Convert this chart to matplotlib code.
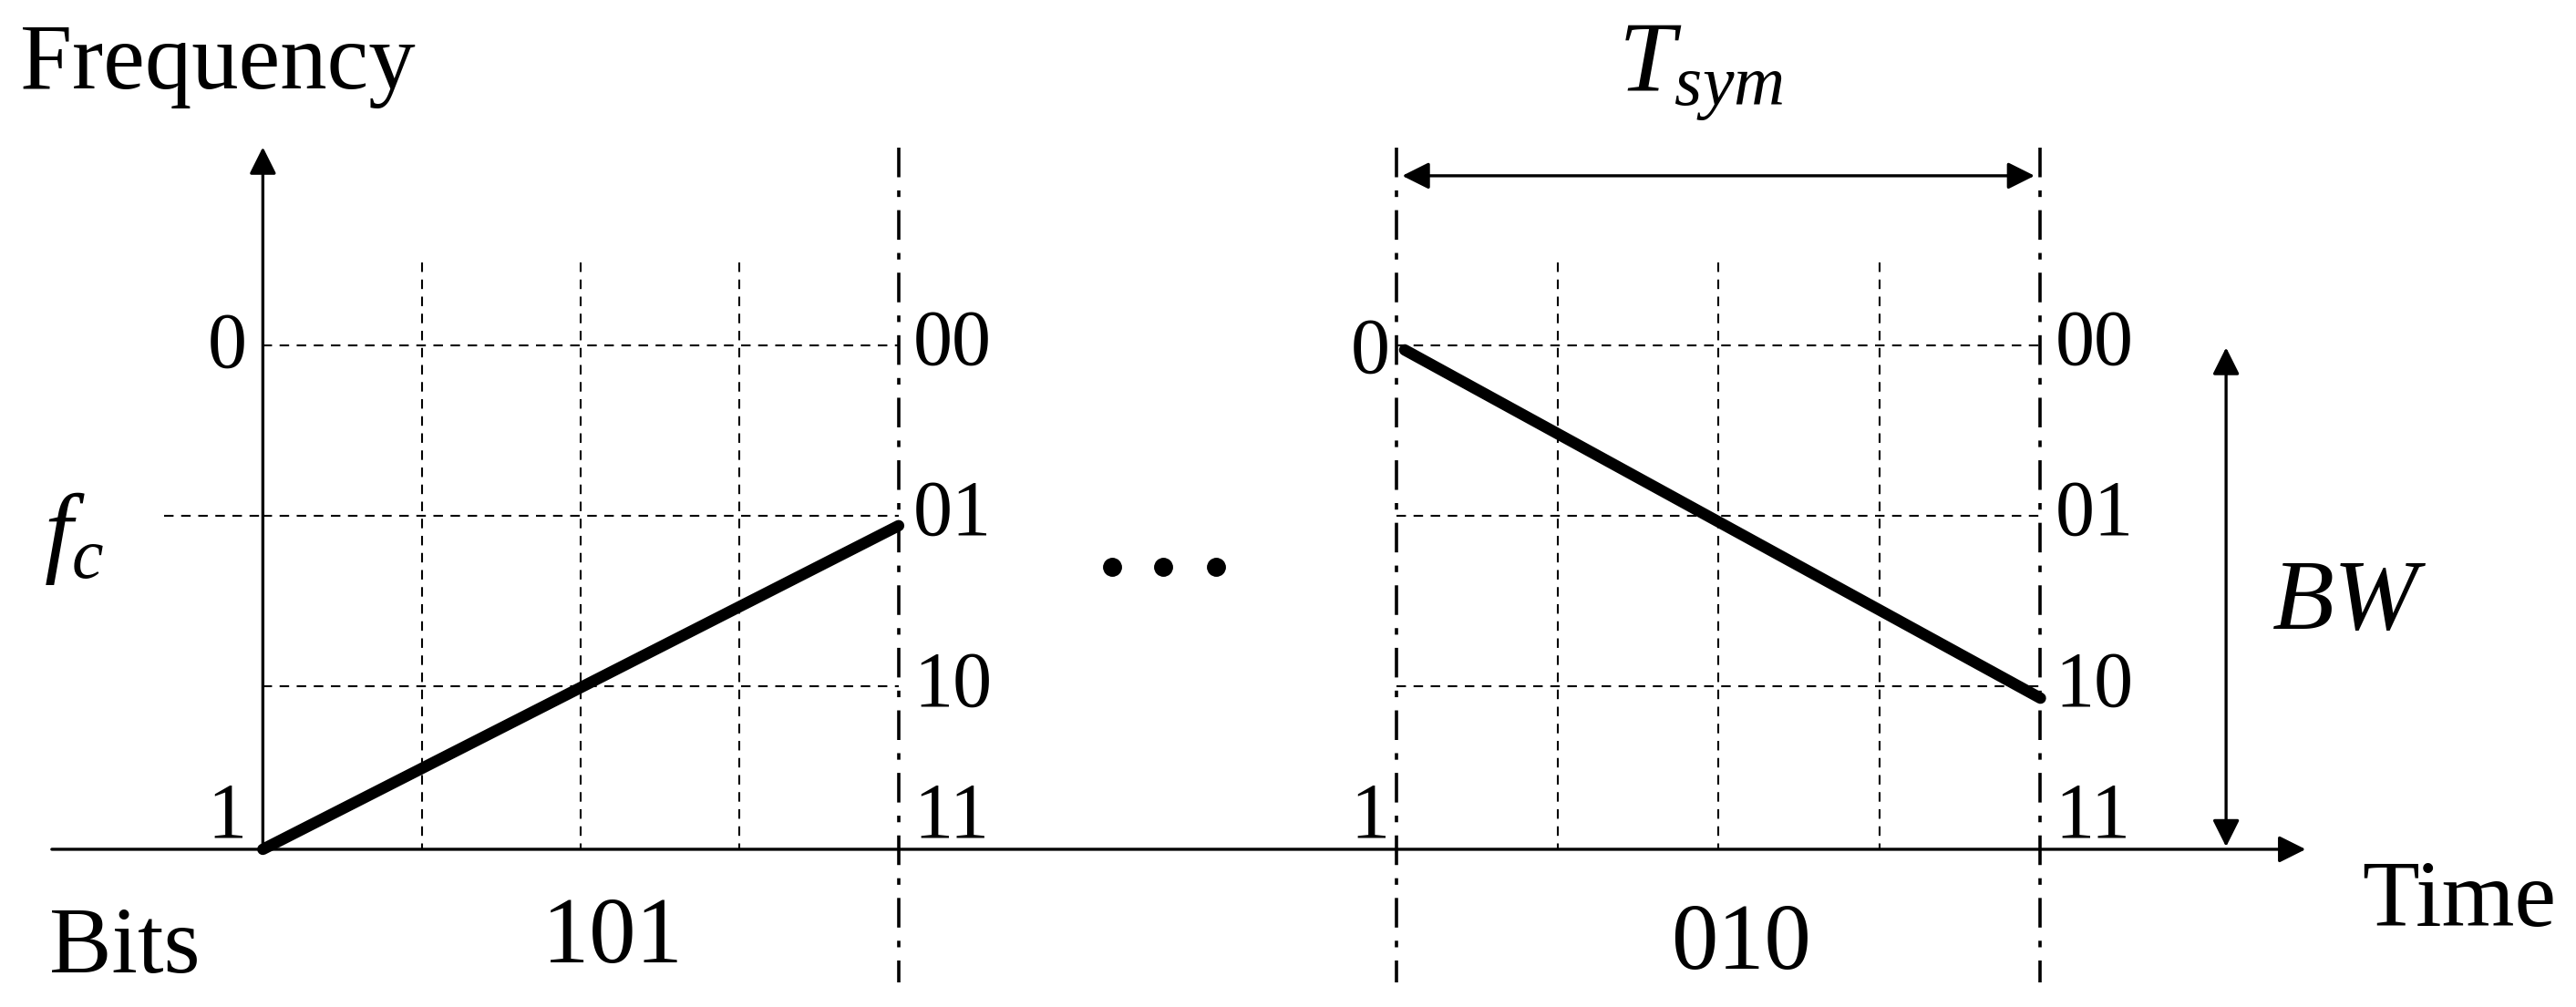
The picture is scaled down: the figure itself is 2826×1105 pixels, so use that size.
import matplotlib
matplotlib.use('Agg')
import matplotlib.pyplot as plt

# layout coordinates (reference pixel frame, 1568 x 613, y down)
levels = ['00', '01', '10', '11']
level_y = [210, 314, 418, 517]
left_sym = [160, 547]
right_sym = [850, 1242]
left_bits = '101'
right_bits = '010'
left_chirp_y = [517, 320]
right_chirp_y = [213, 425]

plt.rcParams['font.family'] = ['Liberation Serif', 'DejaVu Serif']
plt.rcParams['mathtext.fontset'] = 'custom'
plt.rcParams['mathtext.it'] = 'Liberation Serif:italic'
plt.rcParams['mathtext.rm'] = 'Liberation Serif'
fig = plt.figure(figsize=(28.26, 11.05), dpi=100)
ax = fig.add_axes([0, 0, 1, 1])
ax.set_xlim(0, 1568)
ax.set_ylim(613, 0)
ax.axis('off')

fs_num = 62
fs_word = 74
fs_math = 80
dash = dict(ls=(0, (5, 4)), color='black', lw=1.5)
arrow = dict(arrowstyle='-|>', color='black', lw=2.4, mutation_scale=45)
dbl = dict(arrowstyle='<|-|>', color='black', lw=2.4, mutation_scale=45)

# main axes
ax.annotate('', xy=(1405, 517), xytext=(30, 517), arrowprops=arrow)
ax.annotate('', xy=(160, 88), xytext=(160, 517), arrowprops=arrow)

# grids
for x0, x1 in (left_sym, right_sym):
    step = (x1 - x0) / 4
    for k in range(1, 4):
        ax.plot([x0 + k * step] * 2, [160, 517], **dash)
    for y in level_y[:3]:
        ax.plot([x0, x1], [y, y], **dash)
ax.plot([100, 160], [314, 314], **dash)

# symbol boundaries
ax.plot([547, 547], [90, 598], ls=(0, (9, 4, 2, 4)), color='black', lw=2.6)
for x in right_sym:
    ax.plot([x, x], [90, 598], ls=(0, (9, 4, 2, 4)), color='black', lw=2.6)

# chirps
ax.plot(left_sym, left_chirp_y, color='black', lw=9, solid_capstyle='round')
ax.plot([855, 1242], right_chirp_y, color='black', lw=9, solid_capstyle='round')

# level labels
for lab, y in zip(levels, level_y):
    yy = y if lab != '11' else 498
    ax.text(556, yy, lab, fontsize=fs_num, va='center', ha='left')
    ax.text(1251, yy, lab, fontsize=fs_num, va='center', ha='left')
ax.text(150, 212, '0', fontsize=fs_num, va='center', ha='right')
ax.text(150, 498, '1', fontsize=fs_num, va='center', ha='right')
ax.text(846, 215, '0', fontsize=fs_num, va='center', ha='right')
ax.text(846, 498, '1', fontsize=fs_num, va='center', ha='right')

ax.text(12, 40, 'Frequency', fontsize=fs_word, va='center', ha='left')
ax.text(45, 328, r'$f_c$', fontsize=fs_math, va='center', ha='center')
ax.text(30, 578, 'Bits', fontsize=fs_word, va='center', ha='left')
ax.text(373, 572, left_bits, fontsize=fs_word, va='center', ha='center')
ax.text(1060, 576, right_bits, fontsize=fs_word, va='center', ha='center')
ax.text(1497, 550, 'Time', fontsize=fs_word, va='center', ha='center')
ax.plot([677, 708, 740], [345, 345, 345], 'o', color='black', ms=14)

# T_sym and BW
ax.annotate('', xy=(852, 107), xytext=(1240, 107), arrowprops=dbl)
ax.text(1035, 45, r'$T_{sym}$', fontsize=fs_math, va='center', ha='center')
ax.annotate('', xy=(1355, 210), xytext=(1355, 517), arrowprops=dbl)
ax.text(1430, 368, r'$BW$', fontsize=fs_math, va='center', ha='center')

fig.savefig('out.png', dpi=100)
